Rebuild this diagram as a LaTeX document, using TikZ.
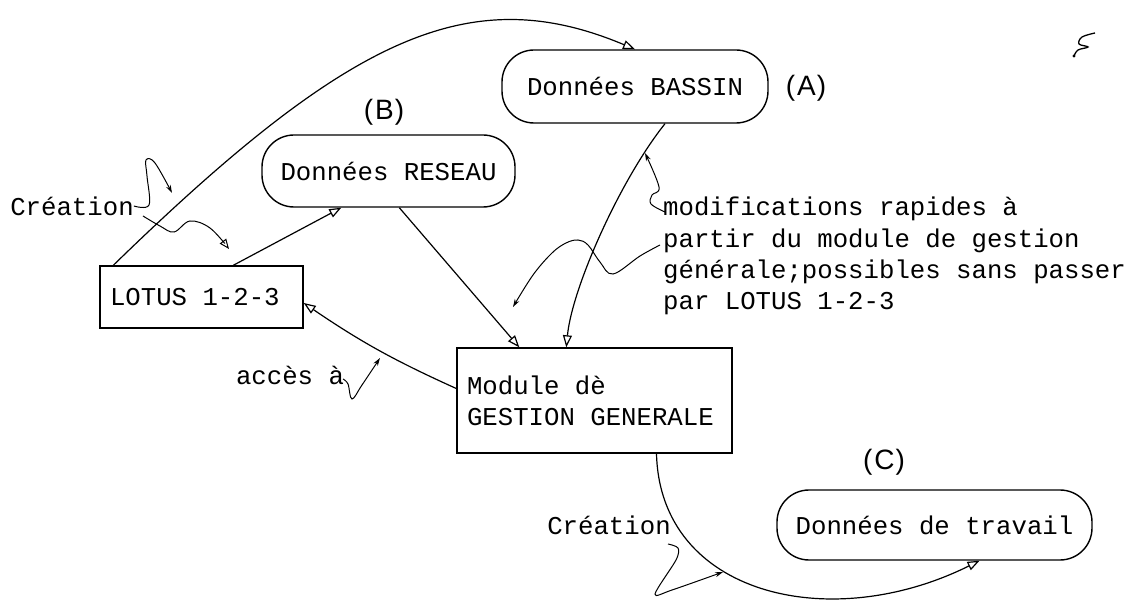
\documentclass[tikz,border=0pt]{standalone}
\usepackage{fontspec}
\newfontfamily\twfont{Liberation Mono}[WordSpace={1,0,0}]
\newfontfamily\lsfont{Liberation Sans}
\usetikzlibrary{arrows.meta}
\begin{document}
\begin{tikzpicture}[x=1pt,y=-1pt,
  tw/.style={font=\twfont\fontsize{25.7}{31.3}\selectfont, inner sep=0pt},
  lbl/.style={font=\lsfont\fontsize{28}{30}\selectfont, inner sep=0pt},
  boxnode/.style={draw, line width=1.4pt, rectangle, tw},
  pill/.style={draw, line width=1.4pt, rounded corners=32pt, tw},
  conn/.style={line width=1.2pt, -{Triangle[open,length=12pt,width=9pt]}},
  note/.style={line width=1pt, -{Stealth[length=8pt,width=5pt]}},
  noteo/.style={line width=1pt, -{Triangle[open,length=10pt,width=8pt]}},
]
\fill[white] (0,0) rectangle (1133,601);
\useasboundingbox (0,0) rectangle (1133,601);

% main nodes
\node[boxnode, minimum width=203pt, minimum height=62pt, text width=183pt, inner xsep=10pt, align=left] (lotus) at (201.5,297) {\spaceskip0pt\xspaceskip0pt\relax LOTUS 1-2-3};
\node[boxnode, minimum width=275pt, minimum height=105pt, text width=255pt, inner xsep=10pt, align=left] (module) at (594.5,400.5) {\spaceskip0pt\xspaceskip0pt\relax Module dè\\GESTION GENERALE};
\node[pill, minimum width=253pt, minimum height=72pt] (reseau) at (388.5,171) {Données RESEAU};
\node[pill, minimum width=266pt, minimum height=73pt] (bassin) at (635,86.5) {Données BASSIN};
\node[pill, minimum width=315pt, minimum height=70pt] (travail) at (934.5,525) {Données de travail};

% letter labels
\node[lbl] (la) at (806,88) {(\kern2pt A\kern1pt)};
\node[lbl] (lb) at (384,112) {(\kern2pt B\kern1pt)};
\node[lbl] (lc) at (884,462) {(\kern2pt C\kern1pt)};

% annotation texts
\node[tw] (cre1) at (72,206) {Création};
\node[tw] (acces) at (290,375) {accès à};
\node[tw] (cre2) at (609,525) {Création};
\node[tw, anchor=north west, align=left] (modif) at (663,197) {modifications rapides à\\partir du module de gestion\\générale;possibles sans passer\\par LOTUS 1-2-3};

% connectors
\draw[conn] ([xshift=14pt]lotus.north west) .. controls (350,35) and (470,-20) .. (bassin.north);
\draw[conn] ([xshift=134pt]lotus.north west) -- ([xshift=80pt]reseau.south west);
\draw[conn] ([xshift=138pt]reseau.south west) -- ([xshift=63pt]module.north west);
\draw[conn] ([xshift=30pt]bassin.south) .. controls (620,180) and (572,288) .. ([xshift=110pt]module.north west);
\draw[conn] ([yshift=12pt]module.west) to[bend left=5] ([yshift=-6pt]lotus.east);
\draw[conn] ([xshift=62pt]module.south) .. controls (660,595) and (830,635) .. ([xshift=45pt]travail.south);

% annotation arrow targets
\coordinate (t1) at (172,193);
\coordinate (t2) at (229,249);
\coordinate (t3) at (645,153);
\coordinate (t4) at (513,307);
\coordinate (t5) at (380,358);
\coordinate (t6) at (723,572);

% annotation squiggles
\draw[note] plot[smooth, tension=0.6] coordinates {(cre1.east) (149,205) (147,176) (146,160) (155,163) (t1)};
\draw[noteo] plot[smooth, tension=0.6] coordinates {(143,216) (160,226) (174,232) (190,221) (210,228) (t2)};
\draw[note] plot[smooth, tension=0.6] coordinates {(665,212) (651,204) (652,195) (659,187) (t3)};
\draw[note] plot[smooth, tension=0.6] coordinates {(660,245) (640,256) (613,274) (600,262) (588,245) (578,240) (566,243) (552,253) (533,275) (t4)};
\draw[note] plot[smooth, tension=0.6] coordinates {(343,379) (348,384) (352,399) (362,385) (t5)};
\draw[note] plot[smooth, tension=0.5] coordinates {(668,544) (678,548) (676,560) (655,594) (672,590) (t6)};

% stray mark top right
\draw[line width=1.3pt] plot[smooth, tension=0.6] coordinates {(1095,33) (1082,37) (1079,44) (1088,47) (1078,50) (1074,56)};
\fill (1074,56) circle (1.6pt);
\end{tikzpicture}
\end{document}
